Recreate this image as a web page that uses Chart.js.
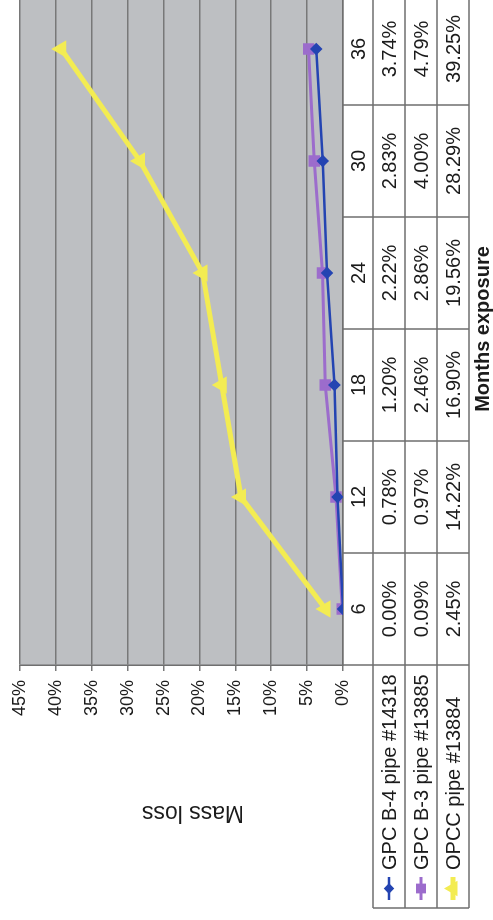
<!DOCTYPE html>
<html>
<head>
<meta charset="utf-8">
<script src="https://cdn.jsdelivr.net/npm/chart.js@4.4.0/dist/chart.umd.min.js"></script>
<style>
    html, body { margin: 0; padding: 0; background: #fff; overflow: hidden; }
    /* the chart is laid out landscape, then turned a quarter turn left */
    #frame {
        position: absolute; left: 0; top: 0;
        width: 920px; height: 493px; overflow: hidden;
        transform-origin: 0 0;
        transform: translate(0, 920px) rotate(-90deg);
        background: #fff;
    }
</style>
</head>
<body>
<div id="frame"><canvas id="mass-loss-chart" width="937" height="493"></canvas></div>
<script>
const $ = document.querySelector.bind(document)

const months = ["6", "12", "18", "24", "30", "36"]
const seriesNames = ["GPC B-4 pipe #14318", "GPC B-3 pipe #13885", "OPCC pipe #13884"]
const gpcB4 = [0.00, 0.78, 1.20, 2.22, 2.83, 3.74]
const gpcB3 = [0.09, 0.97, 2.46, 2.86, 4.00, 4.79]
const opcc = [2.45, 14.22, 16.90, 19.56, 28.29, 39.25]
const massMin = 0
const massMax = 45
const massStep = 5

const FONT = "'Liberation Sans', Arial, sans-serif"
const LINE = "#6f6f6f"
const TEXT = "#1b1b1b"

Chart.defaults.font.family = FONT
Chart.defaults.color = TEXT

const plotBackground = {
    id: "plotBackground",
    beforeDraw(chart) {
        const { ctx, chartArea: a } = chart
        ctx.save()
        ctx.fillStyle = "#bdbfc2"
        ctx.fillRect(a.left, a.top, a.right - a.left, a.bottom - a.top)
        ctx.restore()
    }
}

// data table under the plot, columns follow the category scale
const dataTable = {
    id: "dataTable",
    afterDraw(chart) {
        const { ctx, chartArea: a, scales: { x } } = chart
        const half = (x.getPixelForValue(1) - x.getPixelForValue(0)) / 2
        const headTop = x.top
        const headBottom = headTop + 30
        const rowH = 32
        const legendLeft = 12
        const rows = chart.data.datasets
        const bottom = headBottom + rowH * rows.length

        ctx.save()
        ctx.strokeStyle = LINE
        ctx.lineWidth = 1.5
        ctx.beginPath()
        for (let r = 0; r <= rows.length; r++) {
            const y = headBottom + r * rowH
            ctx.moveTo(legendLeft, y)
            ctx.lineTo(a.right, y)
        }
        for (let i = 0; i <= months.length; i++) {
            const px = x.getPixelForValue(0) - half + i * half * 2
            ctx.moveTo(px, headTop)
            ctx.lineTo(px, bottom)
        }
        ctx.moveTo(legendLeft, headBottom)
        ctx.lineTo(legendLeft, bottom)
        ctx.stroke()

        ctx.fillStyle = TEXT
        ctx.font = `20px ${FONT}`
        ctx.textBaseline = "middle"
        rows.forEach((ds, r) => {
            const cy = headBottom + r * rowH + rowH / 2
            ctx.textAlign = "center"
            ds.data.forEach((v, i) => {
                ctx.fillText(v.toFixed(2) + "%", x.getPixelForValue(i), cy + 1)
            })

            // legend key
            ctx.strokeStyle = ds.borderColor
            ctx.lineWidth = ds.borderWidth
            ctx.beginPath()
            ctx.moveTo(20, cy)
            ctx.lineTo(43, cy)
            ctx.stroke()
            ctx.fillStyle = ds.pointBackgroundColor
            ctx.strokeStyle = ds.borderColor
            Chart.helpers.drawPoint(ctx, {
                pointStyle: ds.pointStyle,
                radius: ds.pointRadius * 0.8,
                rotation: 0,
                borderWidth: 1
            }, 31.5, cy)

            ctx.fillStyle = TEXT
            ctx.textAlign = "left"
            ctx.fillText(ds.label, 50, cy + 1)
        })

        // value axis title, a little below the plot's middle as in the original
        ctx.translate(108, 193)
        ctx.rotate(-Math.PI / 2)
        ctx.font = `23px ${FONT}`
        ctx.textAlign = "center"
        ctx.fillText("Mass loss", 0, 0)
        ctx.restore()
    }
}

new Chart($("#mass-loss-chart"), {
    type: "line",
    data: {
        labels: months,
        datasets: [{
            label: seriesNames[0],
            data: gpcB4,
            borderColor: "#2444b2",
            pointBackgroundColor: "#2444b2",
            borderWidth: 2.5,
            pointStyle: "rectRot",
            pointRadius: 4.5,
        }, {
            label: seriesNames[1],
            data: gpcB3,
            borderColor: "#9c6ccc",
            pointBackgroundColor: "#9c6ccc",
            borderWidth: 3,
            pointStyle: "rect",
            pointRadius: 6,
        }, {
            label: seriesNames[2],
            data: opcc,
            borderColor: "#f3ec52",
            pointBackgroundColor: "#f3ec52",
            borderWidth: 5,
            pointStyle: "triangle",
            pointRadius: 5,
        }]
    },
    options: {
        responsive: false,
        animation: false,
        layout: { padding: { top: 20, left: 0, right: 0, bottom: 0 } },
        elements: { line: { tension: 0 }, point: { borderWidth: 1 } },
        scales: {
            x: {
                type: "category",
                offset: true,
                grid: { display: false, drawTicks: false },
                border: { display: true, color: LINE, width: 1.5 },
                ticks: { font: { size: 20 }, color: TEXT, padding: 4, maxRotation: 0 },
                title: {
                    display: true,
                    text: "Months exposure",
                    font: { size: 20, weight: "bold", lineHeight: 1 },
                    padding: { top: 0, bottom: 0 },
                    color: TEXT
                },
                afterFit: (scale) => { scale.height = 150 }
            },
            y: {
                min: massMin,
                max: massMax,
                grid: { color: "#787878", lineWidth: 1.5, tickLength: 6 },
                border: { display: true, color: LINE, width: 1.5 },
                ticks: {
                    stepSize: massStep,
                    font: { size: 18 },
                    color: TEXT,
                    padding: 9,
                    callback: (value) => `${value}%`
                },
                afterFit: (scale) => { scale.width = 255 }
            }
        },
        plugins: {
            legend: { display: false },
            tooltip: { enabled: false }
        }
    },
    plugins: [plotBackground, dataTable]
});
</script>
</body>
</html>
